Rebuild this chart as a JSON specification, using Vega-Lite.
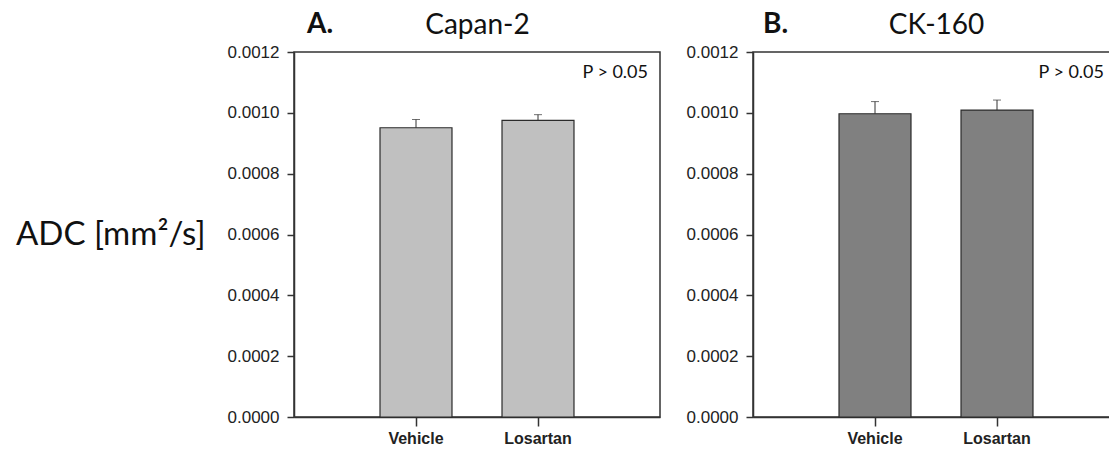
{
  "$schema": "https://vega.github.io/schema/vega-lite/v6.json",
  "background": "white",
  "padding": {"left": 14, "top": 10, "right": 0, "bottom": 0},
  "config": {
    "view": {"stroke": "#333333", "strokeWidth": 1.5},
    "concat": {"spacing": 24},
    "axis": {
      "grid": false,
      "domainColor": "#333333",
      "domainWidth": 1.5,
      "tickColor": "#333333",
      "tickWidth": 1.5,
      "labelFont": "Liberation Sans",
      "labelColor": "#222222",
      "labelFontSize": 17,
      "titleFont": "Lato",
      "titleFontWeight": "normal",
      "titleColor": "#111111"
    },
    "text": {"font": "Lato", "color": "#111111"}
  },
  "datasets": {
    "adc": [
      {"line": "Capan-2", "group": "Vehicle", "adc": 0.000951, "upper": 0.000978},
      {"line": "Capan-2", "group": "Losartan", "adc": 0.000975, "upper": 0.000994},
      {"line": "CK-160", "group": "Vehicle", "adc": 0.000997, "upper": 0.001037},
      {"line": "CK-160", "group": "Losartan", "adc": 0.001009, "upper": 0.001042}
    ]
  },
  "hconcat": [
    {
      "width": 366,
      "height": 365,
      "resolve": {"axis": {"x": "independent"}},
      "layer": [
        {
          "data": {"name": "adc"},
          "transform": [{"filter": "datum.line == 'Capan-2'"}],
          "mark": {"type": "bar", "color": "#c0c0c0", "stroke": "#2b2b2b", "strokeWidth": 1.2},
          "encoding": {
            "x": {
              "field": "group", "type": "nominal", "sort": ["Vehicle", "Losartan"],
              "scale": {"paddingInner": 0.41, "paddingOuter": 0.705},
              "axis": {"orient": "bottom", "title": null, "labelAngle": 0, "labelFontWeight": "bold", "labelFontSize": 16, "tickSize": 9, "labelPadding": 4}
            },
            "y": {
              "field": "adc", "type": "quantitative",
              "scale": {"domain": [0, 0.0012]},
              "axis": {
                "values": [0, 0.0002, 0.0004, 0.0006, 0.0008, 0.001, 0.0012],
                "format": ".4f", "tickSize": 7, "labelPadding": 8,
                "title": "ADC [mm²/s]", "titleAngle": 0, "titleAlign": "right", "titleBaseline": "middle",
                "titleFontSize": 33, "titlePadding": 22
              }
            }
          }
        },
        {
          "data": {"name": "adc"},
          "transform": [{"filter": "datum.line == 'Capan-2'"}],
          "mark": {"type": "rule", "color": "#333333", "strokeWidth": 1},
          "encoding": {
            "x": {"field": "group", "type": "nominal", "sort": ["Vehicle", "Losartan"], "axis": null},
            "y": {"field": "adc", "type": "quantitative", "title": "ADC [mm²/s]"},
            "y2": {"field": "upper"}
          }
        },
        {
          "data": {"name": "adc"},
          "transform": [{"filter": "datum.line == 'Capan-2'"}],
          "mark": {"type": "tick", "color": "#333333", "thickness": 1, "size": 8},
          "encoding": {
            "x": {
              "field": "group", "type": "nominal", "sort": ["Vehicle", "Losartan"],
              "axis": {"orient": "top", "labels": false, "ticks": false, "domain": false, "title": "Capan-2", "titleFontSize": 28, "titleBaseline": "alphabetic", "titlePadding": 19}
            },
            "y": {"field": "upper", "type": "quantitative", "title": "ADC [mm²/s]"}
          }
        },
        {
          "data": {"values": [{"note": "P > 0.05"}]},
          "mark": {"type": "text", "align": "right", "baseline": "alphabetic", "fontSize": 18, "dx": -12, "dy": 25.6},
          "encoding": {"text": {"field": "note"}, "x": {"value": "width"}, "y": {"value": 0}}
        },
        {
          "data": {"values": [{"panel": "A."}]},
          "mark": {"type": "text", "align": "left", "baseline": "alphabetic", "fontSize": 28, "fontWeight": "bold", "dx": 13, "dy": -19},
          "encoding": {"text": {"field": "panel"}, "x": {"value": 0}, "y": {"value": 0}}
        }
      ]
    },
    {
      "width": 366,
      "height": 365,
      "resolve": {"axis": {"x": "independent"}},
      "layer": [
        {
          "data": {"name": "adc"},
          "transform": [{"filter": "datum.line == 'CK-160'"}],
          "mark": {"type": "bar", "color": "#808080", "stroke": "#2b2b2b", "strokeWidth": 1.2},
          "encoding": {
            "x": {
              "field": "group", "type": "nominal", "sort": ["Vehicle", "Losartan"],
              "scale": {"paddingInner": 0.41, "paddingOuter": 0.705},
              "axis": {"orient": "bottom", "title": null, "labelAngle": 0, "labelFontWeight": "bold", "labelFontSize": 16, "tickSize": 9, "labelPadding": 4}
            },
            "y": {
              "field": "adc", "type": "quantitative",
              "scale": {"domain": [0, 0.0012]},
              "axis": {
                "values": [0, 0.0002, 0.0004, 0.0006, 0.0008, 0.001, 0.0012],
                "format": ".4f", "tickSize": 7, "labelPadding": 8, "title": null
              }
            }
          }
        },
        {
          "data": {"name": "adc"},
          "transform": [{"filter": "datum.line == 'CK-160'"}],
          "mark": {"type": "rule", "color": "#333333", "strokeWidth": 1},
          "encoding": {
            "x": {"field": "group", "type": "nominal", "sort": ["Vehicle", "Losartan"], "axis": null},
            "y": {"field": "adc", "type": "quantitative", "title": null},
            "y2": {"field": "upper"}
          }
        },
        {
          "data": {"name": "adc"},
          "transform": [{"filter": "datum.line == 'CK-160'"}],
          "mark": {"type": "tick", "color": "#333333", "thickness": 1, "size": 8},
          "encoding": {
            "x": {
              "field": "group", "type": "nominal", "sort": ["Vehicle", "Losartan"],
              "axis": {"orient": "top", "labels": false, "ticks": false, "domain": false, "title": "CK-160", "titleFontSize": 28, "titleBaseline": "alphabetic", "titlePadding": 19}
            },
            "y": {"field": "upper", "type": "quantitative", "title": null}
          }
        },
        {
          "data": {"values": [{"note": "P > 0.05"}]},
          "mark": {"type": "text", "align": "right", "baseline": "alphabetic", "fontSize": 18, "dx": -15, "dy": 25.6},
          "encoding": {"text": {"field": "note"}, "x": {"value": "width"}, "y": {"value": 0}}
        },
        {
          "data": {"values": [{"panel": "B."}]},
          "mark": {"type": "text", "align": "left", "baseline": "alphabetic", "fontSize": 28, "fontWeight": "bold", "dx": 10, "dy": -19},
          "encoding": {"text": {"field": "panel"}, "x": {"value": 0}, "y": {"value": 0}}
        }
      ]
    }
  ]
}
